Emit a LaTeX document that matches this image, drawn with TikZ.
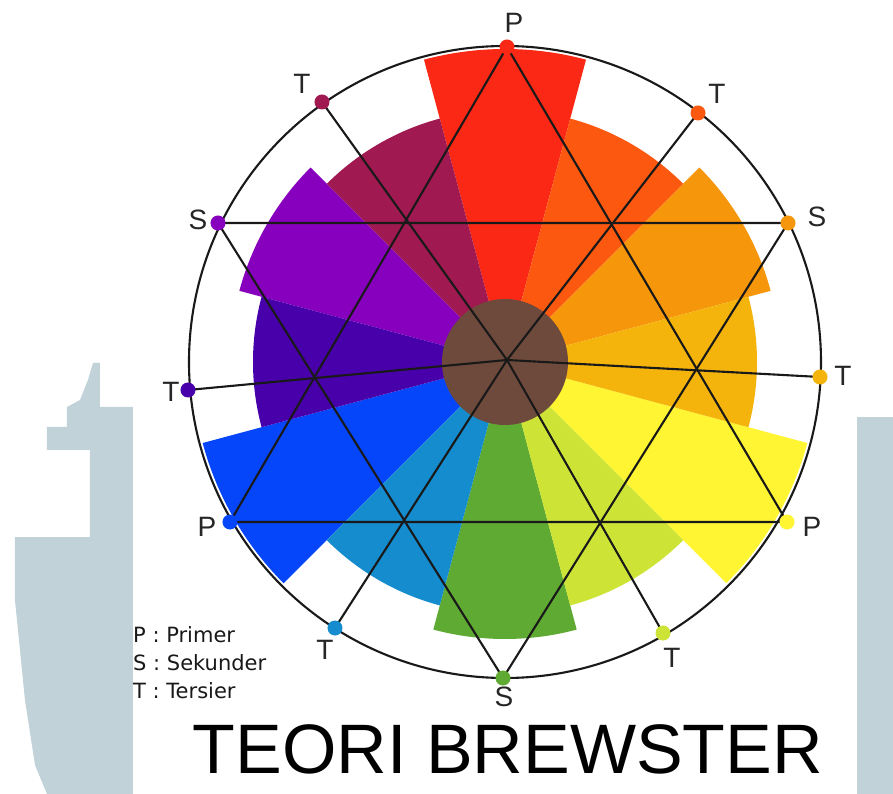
\documentclass[tikz,border=0pt]{standalone}
\usepackage{fontspec}
\setmainfont{Liberation Sans}
\newfontfamily\keyfont{DejaVu Sans}

\definecolor{wmark}{RGB}{193,210,217}
\definecolor{cRed}{RGB}{250,40,20}
\definecolor{cRedOrange}{RGB}{252,88,15}
\definecolor{cOrange}{RGB}{246,150,10}
\definecolor{cYellowOrange}{RGB}{244,180,12}
\definecolor{cYellow}{RGB}{255,245,50}
\definecolor{cYellowGreen}{RGB}{205,228,55}
\definecolor{cGreen}{RGB}{95,170,50}
\definecolor{cBlueGreen}{RGB}{20,140,205}
\definecolor{cBlue}{RGB}{5,70,250}
\definecolor{cBlueViolet}{RGB}{72,0,170}
\definecolor{cViolet}{RGB}{135,0,190}
\definecolor{cRedViolet}{RGB}{160,25,80}
\definecolor{cCore}{RGB}{110,74,60}

\begin{document}
\begin{tikzpicture}[
    x=1pt, y=1pt,
    rim/.style={draw=black!90, line width=2.1pt},
    spoke/.style={draw=black!90, line width=2.1pt, line join=round},
    huedot/.style={circle, inner sep=0pt, minimum size=15pt},
    letter/.style={font=\fontsize{28}{28}\selectfont, inner sep=0pt, text=black!85},
    keytext/.style={font=\keyfont\fontsize{21}{28}\selectfont, align=left, inner sep=0pt, text=black!90},
    heading/.style={font=\fontsize{70}{70}\selectfont, inner sep=0pt, text=black}
]

% kanvas
\useasboundingbox (-505,-432) rectangle (388,362);
\fill[white] (-505,-432) rectangle (388,362);

% watermark di belakang
\begin{scope}[shift={(-505,362)}, yscale=-1]
\fill[wmark] (93,363) -- (100,363) -- (100,407) -- (133,407) -- (133,794) -- (47,794) -- (35,765)
    -- (25,700) -- (15,600) -- (15,537) -- (90,537) -- (90,450) -- (47,450) -- (47,427)
    -- (67,427) -- (67,407) -- (80,400) -- (88,380) -- cycle;
\fill[wmark] (857,417) rectangle (893,794);
\end{scope}

% juring warna: primer
\fill[cRed] (0,0) -- (75:313) arc[start angle=75, end angle=105, radius=313] -- cycle;
\fill[cYellow] (0,0) -- (-45:313) arc[start angle=-45, end angle=-15, radius=313] -- cycle;
\fill[cBlue] (0,0) -- (195:313) arc[start angle=195, end angle=225, radius=313] -- cycle;

% juring warna: sekunder
\fill[cOrange] (0,0) -- (15:275) arc[start angle=15, end angle=45, radius=275] -- cycle;
\fill[cGreen] (0,0) -- (-105:277) arc[start angle=-105, end angle=-75, radius=277] -- cycle;
\fill[cViolet] (0,0) -- (135:275) arc[start angle=135, end angle=165, radius=275] -- cycle;

% juring warna: tersier
\fill[cRedOrange] (0,0) -- (45:252) arc[start angle=45, end angle=75, radius=252] -- cycle;
\fill[cYellowOrange] (0,0) -- (-15:252) arc[start angle=-15, end angle=15, radius=252] -- cycle;
\fill[cYellowGreen] (0,0) -- (-75:252) arc[start angle=-75, end angle=-45, radius=252] -- cycle;
\fill[cBlueGreen] (0,0) -- (-135:252) arc[start angle=-135, end angle=-105, radius=252] -- cycle;
\fill[cBlueViolet] (0,0) -- (165:252) arc[start angle=165, end angle=195, radius=252] -- cycle;
\fill[cRedViolet] (0,0) -- (105:252) arc[start angle=105, end angle=135, radius=252] -- cycle;

% inti coklat
\node (core) [circle, fill=cCore, inner sep=0pt, minimum size=126pt] at (0,0) {};

% lingkaran luar
\draw[rim] (0,0) circle[radius=316];

% titik pada lingkaran
\coordinate (pTop) at (2,315);
\coordinate (tTopR) at (193,249);
\coordinate (sRight) at (283,139);
\coordinate (tRight) at (315,-15);
\coordinate (pRight) at (282,-160);
\coordinate (tBotR) at (158,-271);
\coordinate (sBottom) at (-2,-316);
\coordinate (tBotL) at (-170,-266);
\coordinate (pLeft) at (-275,-160);
\coordinate (tLeft) at (-317,-28);
\coordinate (sLeft) at (-287,139);
\coordinate (tTopL) at (-183,260);
\coordinate (hub) at (2,2);

% segitiga dan garis tengah
\draw[spoke] (pTop) -- (pRight) -- (pLeft) -- cycle;
\draw[spoke] (sLeft) -- (sRight) -- (sBottom) -- cycle;
\draw[spoke] (tLeft) -- (hub) -- (tRight);
\draw[spoke] (tTopL) -- (hub) -- (tBotR);
\draw[spoke] (tTopR) -- (hub) -- (tBotL);

% titik warna
\node (dotPTop) [huedot, fill=cRed] at (pTop) {};
\node (dotTTopR) [huedot, fill=cRedOrange] at (tTopR) {};
\node (dotSRight) [huedot, fill=cOrange] at (sRight) {};
\node (dotTRight) [huedot, fill=cYellowOrange] at (tRight) {};
\node (dotPRight) [huedot, fill=cYellow] at (pRight) {};
\node (dotTBotR) [huedot, fill=cYellowGreen] at (tBotR) {};
\node (dotSBottom) [huedot, fill=cGreen] at (sBottom) {};
\node (dotTBotL) [huedot, fill=cBlueGreen] at (tBotL) {};
\node (dotPLeft) [huedot, fill=cBlue] at (pLeft) {};
\node (dotTLeft) [huedot, fill=cBlueViolet] at (tLeft) {};
\node (dotSLeft) [huedot, fill=cViolet] at (sLeft) {};
\node (dotTTopL) [huedot, fill=cRedViolet] at (tTopL) {};

% huruf P, S, T
\node (lblPTop) [letter] at (9,339) {P};
\node (lblTTopR) [letter] at (212,268) {T};
\node (lblSRight) [letter] at (312,145) {S};
\node (lblTRight) [letter] at (338,-14) {T};
\node (lblPRight) [letter] at (307,-165) {P};
\node (lblTBotR) [letter] at (167,-296) {T};
\node (lblSBottom) [letter] at (-1,-335) {S};
\node (lblTBotL) [letter] at (-180,-288) {T};
\node (lblPLeft) [letter] at (-298,-165) {P};
\node (lblTLeft) [letter] at (-334,-30) {T};
\node (lblSLeft) [letter] at (-307,142) {S};
\node (lblTTopL) [letter] at (-203,278) {T};

% keterangan
\node (key) [keytext, anchor=north west] at (-372,-264) {P : Primer\\S : Sekunder\\T : Tersier};

% judul
\node (title) [heading, anchor=base] at (3,-411) {TEORI BREWSTER};

\end{tikzpicture}
\end{document}
